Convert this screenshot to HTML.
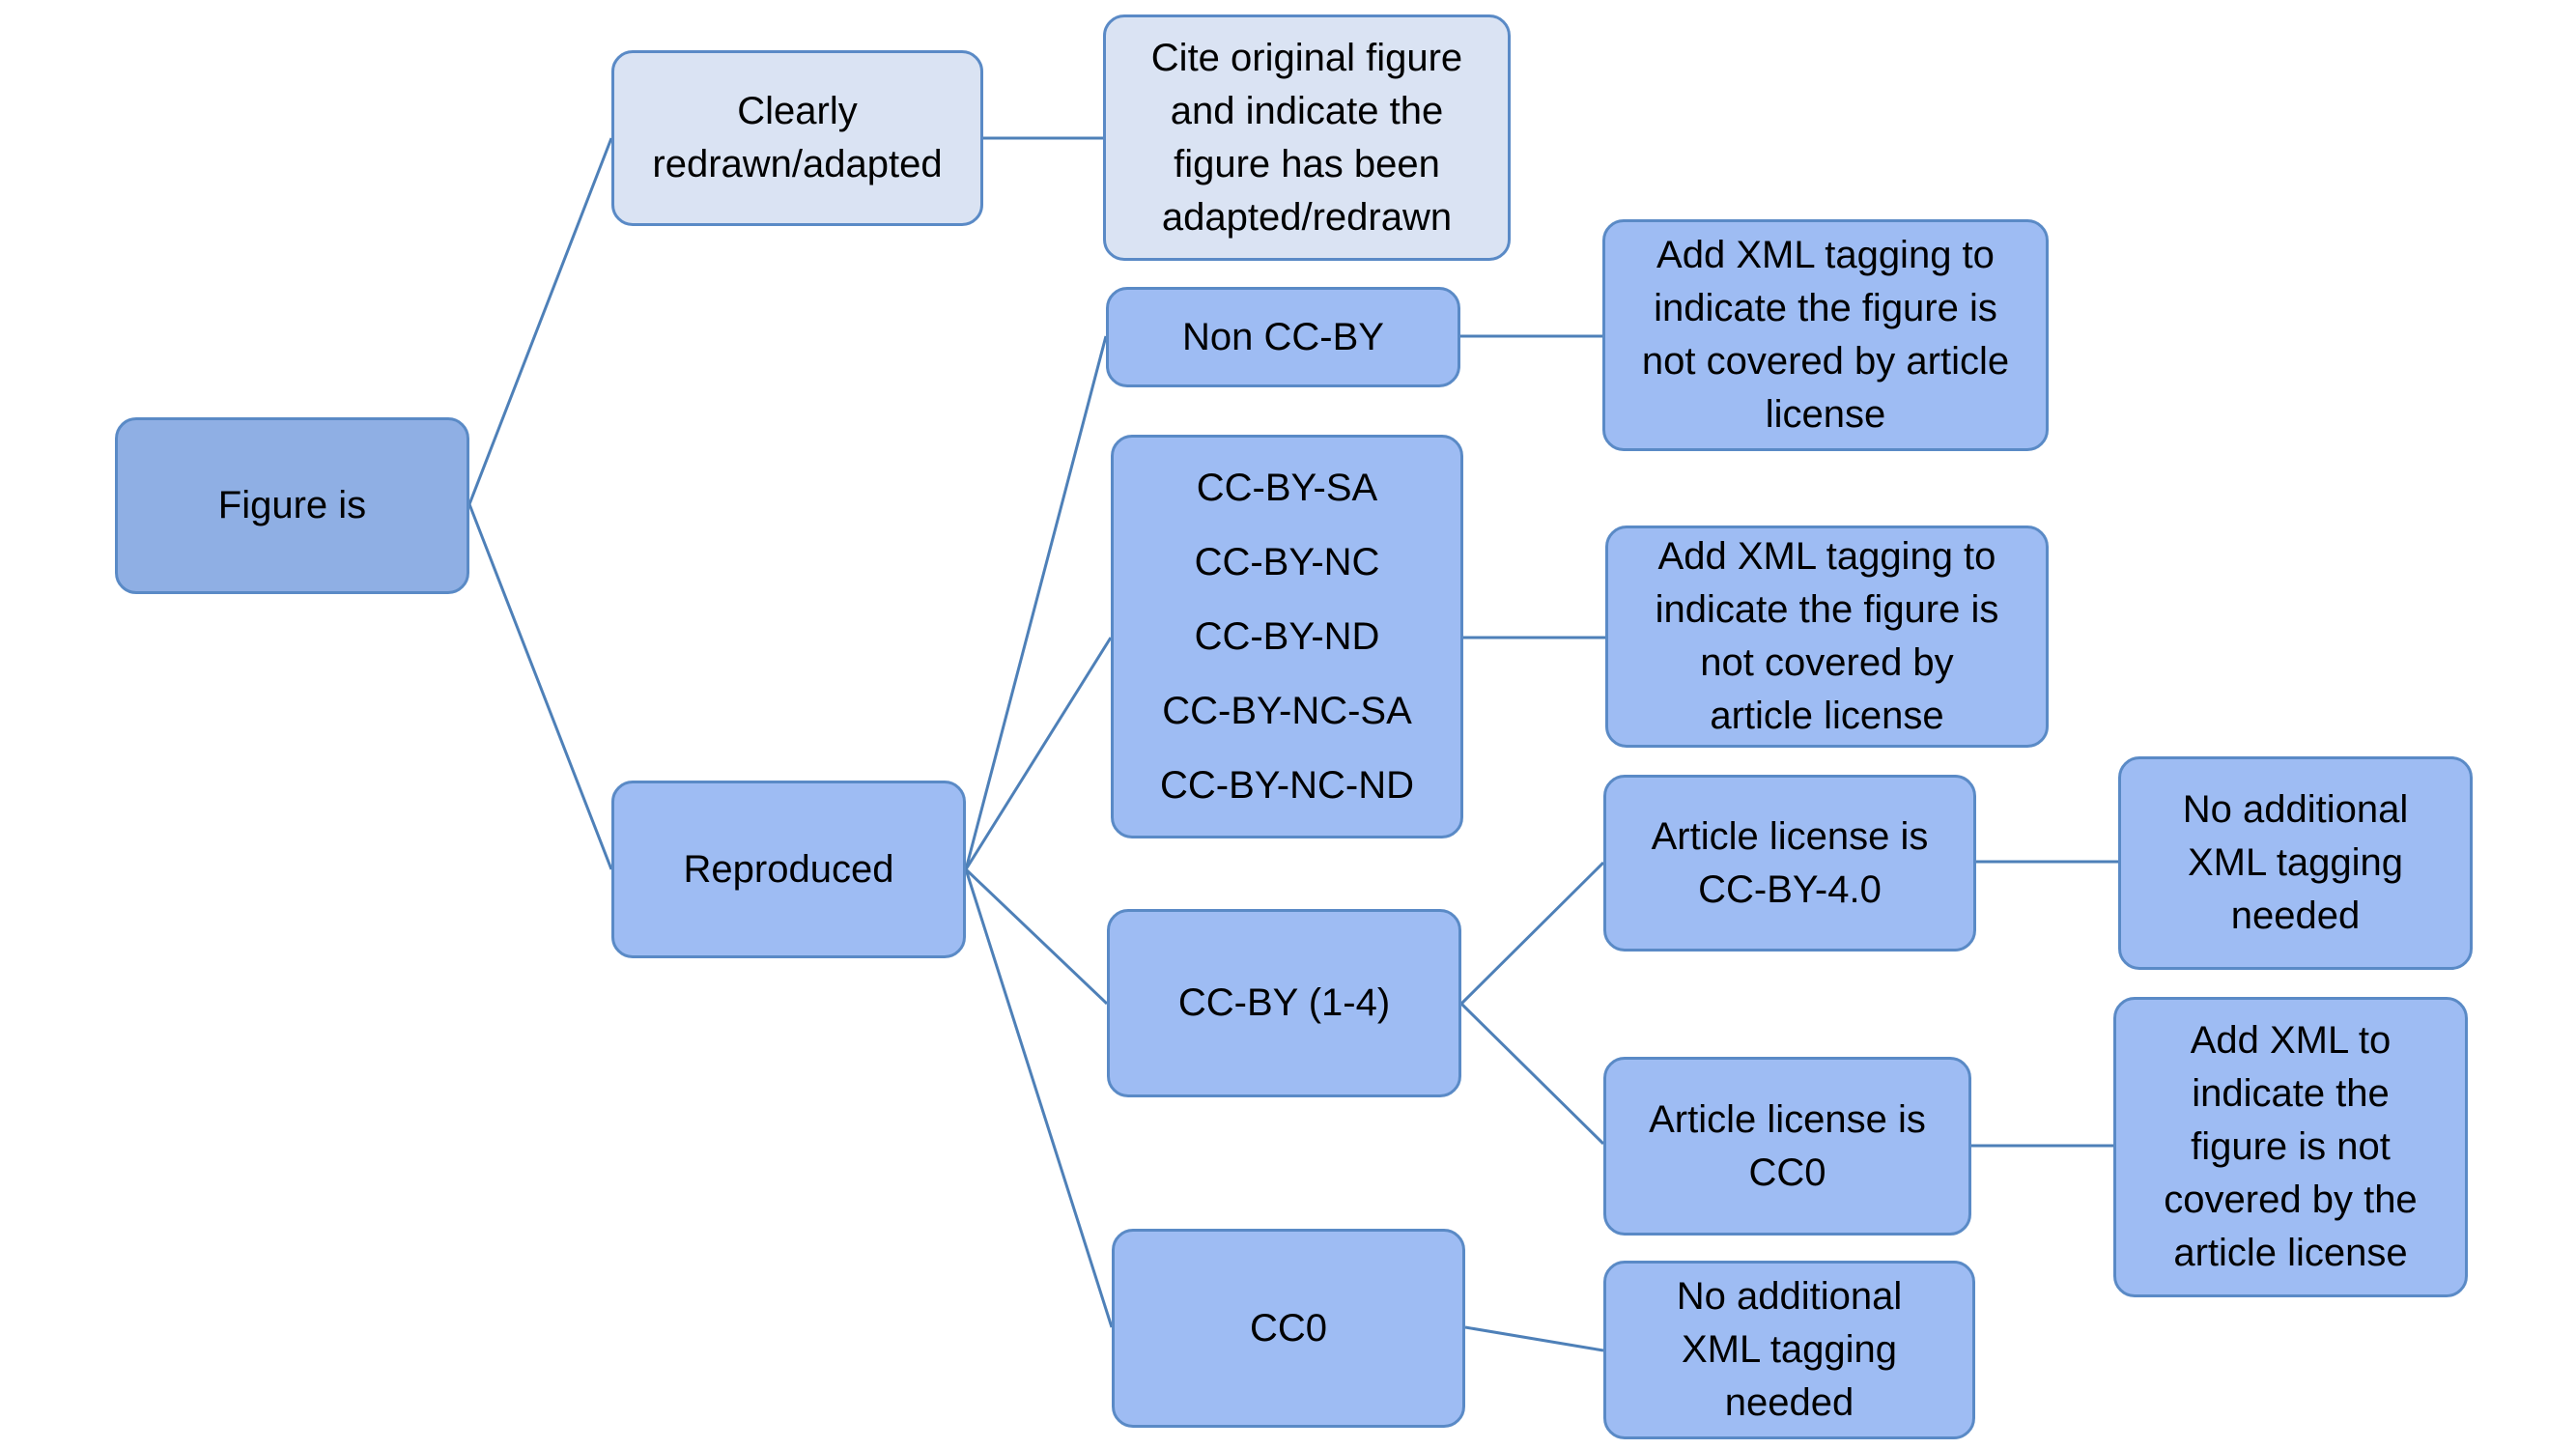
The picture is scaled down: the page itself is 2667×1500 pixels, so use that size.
<!DOCTYPE html>
<html><head><meta charset="utf-8"><style>
body{margin:0;width:2667px;height:1500px;background:#fff;overflow:hidden;position:relative;font-family:"Liberation Sans",sans-serif}
.b{position:absolute;box-sizing:border-box;border:3px solid #5a8ac6;border-radius:22px;background:#9ebcf3;display:flex;align-items:center;justify-content:center;text-align:center;font-size:40px;line-height:55px;color:#000}
.l{background:#dae3f3}
svg{position:absolute;left:0;top:0}
</style></head><body>
<svg width="2667" height="1500"><g stroke="#4e80b8" stroke-width="3" fill="none">
<line x1="486" y1="522" x2="633" y2="143"/>
<line x1="486" y1="522" x2="633" y2="900"/>
<line x1="1018" y1="143" x2="1142" y2="143"/>
<line x1="1000" y1="900" x2="1145" y2="348"/>
<line x1="1000" y1="900" x2="1150" y2="660"/>
<line x1="1000" y1="900" x2="1146" y2="1039"/>
<line x1="1000" y1="900" x2="1151" y2="1374"/>
<line x1="1512" y1="348" x2="1659" y2="348"/>
<line x1="1515" y1="660" x2="1662" y2="660"/>
<line x1="1513" y1="1039" x2="1660" y2="893"/>
<line x1="1513" y1="1039" x2="1660" y2="1184"/>
<line x1="2046" y1="892" x2="2193" y2="892"/>
<line x1="2041" y1="1186" x2="2188" y2="1186"/>
<line x1="1517" y1="1374" x2="1660" y2="1398"/>
</g></svg>
<div class="b" style="left:119px;top:432px;width:367px;height:183px;background:#8fafe4">Figure is</div>
<div class="b l" style="left:633px;top:52px;width:385px;height:182px">Clearly<br>redrawn/adapted</div>
<div class="b l" style="left:1142px;top:15px;width:422px;height:255px">Cite original figure<br>and indicate the<br>figure has been<br>adapted/redrawn</div>
<div class="b" style="left:1145px;top:297px;width:367px;height:104px">Non CC-BY</div>
<div class="b" style="left:1150px;top:450px;width:365px;height:418px;line-height:77px">CC-BY-SA<br>CC-BY-NC<br>CC-BY-ND<br>CC-BY-NC-SA<br>CC-BY-NC-ND</div>
<div class="b" style="left:1659px;top:227px;width:462px;height:240px">Add XML tagging to<br>indicate the figure is<br>not covered by article<br>license</div>
<div class="b" style="left:1662px;top:544px;width:459px;height:230px">Add XML tagging to<br>indicate the figure is<br>not covered by<br>article license</div>
<div class="b" style="left:633px;top:808px;width:367px;height:184px">Reproduced</div>
<div class="b" style="left:1660px;top:802px;width:386px;height:183px">Article license is<br>CC-BY-4.0</div>
<div class="b" style="left:2193px;top:783px;width:367px;height:221px">No additional<br>XML tagging<br>needed</div>
<div class="b" style="left:1146px;top:941px;width:367px;height:195px">CC-BY (1-4)</div>
<div class="b" style="left:1660px;top:1094px;width:381px;height:185px">Article license is<br>CC0</div>
<div class="b" style="left:2188px;top:1032px;width:367px;height:311px">Add XML to<br>indicate the<br>figure is not<br>covered by the<br>article license</div>
<div class="b" style="left:1151px;top:1272px;width:366px;height:206px">CC0</div>
<div class="b" style="left:1660px;top:1305px;width:385px;height:185px">No additional<br>XML tagging<br>needed</div>
</body></html>
